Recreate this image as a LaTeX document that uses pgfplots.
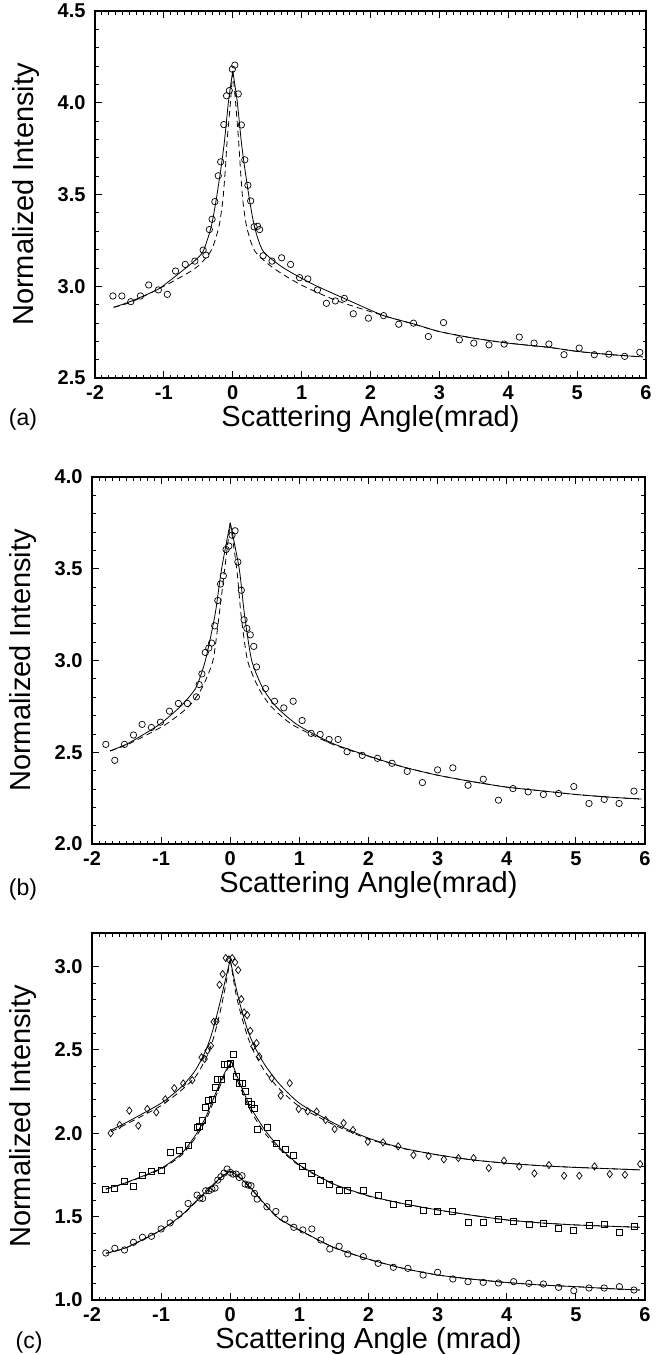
\documentclass[border=0pt]{standalone}
\usepackage{fontspec}
\setmainfont{Liberation Sans}
\usepackage{pgfplots}
\pgfplotsset{compat=1.18}

\pgfplotsset{
  panel/.style={
    scale only axis,
    height=367bp,
    xmin=-2, xmax=6,
    xtick={-2,-1,0,1,2,3,4,5,6},
    minor x tick num=9,
    minor y tick num=4,
    tick align=inside,
    major tick length=7bp,
    minor tick length=3.5bp,
    axis line style={line width=1.1bp},
    every tick/.style={black, line width=0.8bp},
    /pgf/number format/assume math mode=true,
    ticklabel style={font=\fontsize{20bp}{20bp}\selectfont\bfseries},
    xticklabel style={yshift=-4bp},
    yticklabel style={xshift=-6bp,
      /pgf/number format/fixed,
      /pgf/number format/fixed zerofill,
      /pgf/number format/precision=1},
    ylabel={Normalized Intensity},
    ylabel style={font=\fontsize{29bp}{29bp}\selectfont,
      at={(axis description cs:-0.125,0.5)}, anchor=center},
    xlabel style={font=\fontsize{29bp}{29bp}\selectfont,
      at={(axis description cs:0.5,0)}, anchor=center, yshift=-41bp},
  },
  fit/.style={black, line width=0.8bp, no markers, smooth, tension=0.4},
  fitd/.style={black, line width=0.8bp, no markers, smooth, tension=0.4,
    dash pattern=on 6bp off 4bp},
  pts/.style={only marks, mark=o, mark size=3.2bp,
    mark options={line width=0.7bp, black}},
}

\begin{document}
\begin{tikzpicture}
\path[use as bounding box] (0,0) rectangle (668bp,-1355bp);

% ---------------- (a)
\begin{axis}[panel, name=pa, width=551bp,
  at={(95bp,-11bp)}, anchor=north west,
  ymin=2.5, ymax=4.5, ytick={2.5,3.0,3.5,4.0,4.5},
  xlabel={Scattering Angle(mrad)}]
\addplot[pts] coordinates {
(-1.74,2.947) (-1.61,2.947) (-1.48,2.916) (-1.34,2.947) (-1.22,3.007)
(-1.08,2.98) (-0.95,2.956) (-0.83,3.083) (-0.69,3.119) (-0.55,3.137)
(-0.43,3.197) (-0.39,3.17) (-0.34,3.309) (-0.30,3.365) (-0.26,3.461)
(-0.21,3.602) (-0.175,3.678) (-0.13,3.881) (-0.09,4.038) (-0.05,4.066)
(-0.006,4.183) (0.03,4.205) (0.08,4.048) (0.125,3.879) (0.175,3.689)
(0.22,3.55) (0.26,3.465) (0.31,3.324) (0.36,3.327) (0.39,3.309)
(0.44,3.166) (0.57,3.137) (0.71,3.155) (0.84,3.119) (0.97,3.047)
(1.09,3.04) (1.23,2.98) (1.36,2.907) (1.49,2.92) (1.62,2.934)
(1.75,2.85) (1.97,2.826) (2.19,2.84) (2.41,2.793) (2.625,2.799)
(2.84,2.726) (3.06,2.802) (3.29,2.708) (3.5,2.69) (3.72,2.681)
(3.94,2.685) (4.16,2.723) (4.375,2.69) (4.59,2.685) (4.81,2.627)
(5.03,2.663) (5.25,2.627) (5.46,2.63) (5.69,2.618) (5.91,2.64)};
% solid fit
\addplot[fit] coordinates {
(-1.73,2.885) (-1.48,2.918) (-1.08,2.985) (-0.73,3.085) (-0.55,3.14)
(-0.43,3.19) (-0.316,3.319) (-0.243,3.465) (-0.17,3.646) (-0.12,3.792)
(-0.061,4.01) (0,4.173)};
\addplot[fit] coordinates {
(0,4.173) (0.064,4.01) (0.123,3.792) (0.173,3.646) (0.246,3.465)
(0.319,3.319) (0.44,3.192) (0.733,3.101) (1.17,3.01) (1.70,2.92)
(2.19,2.84) (2.625,2.795) (3.0,2.753) (3.5,2.717) (4.0,2.69)
(4.59,2.667) (5.0,2.645) (5.5,2.627) (5.95,2.615)};
% dashed fit
\addplot[fitd] coordinates {
(-1.73,2.885) (-1.46,2.916) (-0.95,3.01) (-0.536,3.10) (-0.317,3.192)
(-0.204,3.319) (-0.145,3.465) (-0.106,3.646) (-0.082,3.792) (-0.032,4.01)
(0,4.173)};
\addplot[fitd] coordinates {
(0,4.173) (0.04,4.01) (0.085,3.792) (0.11,3.646) (0.147,3.465)
(0.205,3.319) (0.32,3.192) (0.587,3.10) (0.978,3.01) (1.52,2.92)
(2.19,2.84) (2.625,2.794) (3.0,2.753) (3.5,2.717) (4.0,2.69)
(4.59,2.667) (5.0,2.645) (5.5,2.627) (5.95,2.615)};
\end{axis}
\node[font=\fontsize{23bp}{23bp}\selectfont] at ([xshift=-72bp,yshift=-42bp]pa.south west) {(a)};

% ---------------- (b)
\begin{axis}[panel, name=pb, width=553bp,
  at={(92bp,-477bp)}, anchor=north west,
  ymin=2.0, ymax=4.0, ytick={2.0,2.5,3.0,3.5,4.0},
  xlabel={Scattering Angle(mrad)}]
\addplot[pts] coordinates {
(-1.8,2.543) (-1.67,2.456) (-1.53,2.543) (-1.4,2.594) (-1.275,2.652)
(-1.14,2.635) (-1.01,2.664) (-0.88,2.724) (-0.75,2.766) (-0.62,2.766)
(-0.49,2.802) (-0.45,2.869) (-0.41,2.927) (-0.36,3.044) (-0.31,3.068)
(-0.27,3.095) (-0.225,3.189) (-0.18,3.327) (-0.14,3.417) (-0.1,3.462)
(-0.06,3.605) (-0.02,3.624) (0.025,3.683) (0.07,3.707) (0.11,3.537)
(0.16,3.383) (0.2,3.222) (0.24,3.175) (0.29,3.14) (0.34,3.077)
(0.38,2.965) (0.51,2.847) (0.64,2.778) (0.775,2.742) (0.91,2.778)
(1.04,2.673) (1.17,2.603) (1.3,2.597) (1.43,2.57) (1.56,2.57)
(1.69,2.503) (1.91,2.483) (2.13,2.467) (2.34,2.44) (2.56,2.396)
(2.78,2.335) (3.0,2.404) (3.22,2.415) (3.44,2.32) (3.66,2.353)
(3.88,2.239) (4.09,2.302) (4.31,2.284) (4.53,2.27) (4.75,2.275)
(4.97,2.313) (5.19,2.221) (5.41,2.243) (5.625,2.221) (5.84,2.288)};
\addplot[fit] coordinates {
(-1.74,2.507) (-1.47,2.55) (-1.03,2.65) (-0.72,2.75) (-0.5,2.85)
(-0.36,3.0) (-0.22,3.25) (-0.125,3.5) (0,3.75)};
\addplot[fit] coordinates {
(0,3.75) (0.13,3.5) (0.206,3.25) (0.31,3.0) (0.47,2.85) (0.66,2.75)
(0.97,2.65) (1.47,2.55) (2.0,2.48) (2.5,2.42) (3.0,2.375) (3.5,2.34)
(4.0,2.31) (4.5,2.29) (5.0,2.27) (5.5,2.255) (5.95,2.245)};
\addplot[fitd] coordinates {
(-1.74,2.507) (-1.47,2.545) (-0.94,2.65) (-0.6,2.75) (-0.41,2.85)
(-0.25,3.0) (-0.16,3.25) (-0.08,3.5) (0,3.75)};
\addplot[fitd] coordinates {
(0,3.75) (0.094,3.5) (0.156,3.25) (0.25,3.0) (0.41,2.85) (0.59,2.75)
(0.9,2.65) (1.47,2.545) (2.0,2.478) (2.5,2.42) (3.0,2.375) (3.5,2.34)
(4.0,2.31) (4.5,2.29) (5.0,2.27) (5.5,2.255) (5.95,2.245)};
\end{axis}
\node[font=\fontsize{23bp}{23bp}\selectfont] at ([xshift=-69bp,yshift=-46bp]pb.south west) {(b)};

% ---------------- (c)
\begin{axis}[panel, name=pc, width=553bp,
  at={(92bp,-933bp)}, anchor=north west,
  ymin=1.0, ymax=3.2, ytick={1.0,1.5,2.0,2.5,3.0},
  xlabel={Scattering Angle (mrad)}]
% diamonds
\addplot[only marks, mark=diamond, mark size=3.6bp,
  mark options={line width=0.7bp, black}] coordinates {
(-1.73,2.0) (-1.6,2.049) (-1.46,2.135) (-1.33,2.045) (-1.2,2.145)
(-1.07,2.125) (-0.94,2.203) (-0.81,2.27) (-0.68,2.298) (-0.55,2.318)
(-0.415,2.455) (-0.37,2.445) (-0.33,2.495) (-0.28,2.524) (-0.24,2.668)
(-0.2,2.67) (-0.155,2.89) (-0.11,2.954) (-0.065,3.05) (-0.02,3.042)
(0.028,3.05) (0.07,3.024) (0.115,2.978) (0.16,2.804) (0.2,2.724)
(0.245,2.708) (0.29,2.614) (0.334,2.52) (0.38,2.54) (0.42,2.46)
(0.6,2.33) (0.73,2.225) (0.86,2.3) (0.99,2.145) (1.12,2.131)
(1.25,2.129) (1.38,2.079) (1.51,2.025) (1.64,2.061) (1.775,2.019)
(1.99,1.949) (2.21,1.945) (2.43,1.921) (2.65,1.869) (2.87,1.863)
(3.09,1.843) (3.3,1.851) (3.52,1.851) (3.74,1.791) (3.96,1.835)
(4.18,1.801) (4.4,1.759) (4.61,1.809) (4.83,1.745) (5.05,1.745)
(5.27,1.801) (5.49,1.755) (5.71,1.751) (5.93,1.815)};
\addplot[fit] coordinates {
(-1.72,2.02) (-1.5,2.065) (-1.0,2.18) (-0.7,2.28) (-0.5,2.38)
(-0.35,2.5) (-0.25,2.62) (-0.15,2.78) (-0.07,2.92) (0,3.04)};
\addplot[fit] coordinates {
(0,3.04) (0.08,2.88) (0.15,2.76) (0.25,2.62) (0.35,2.52) (0.5,2.41)
(0.7,2.30) (1.0,2.18) (1.5,2.06) (2.0,1.97) (2.5,1.91) (3.0,1.87)
(3.5,1.84) (4.0,1.82) (4.5,1.805) (5.0,1.795) (5.5,1.787) (5.93,1.78)};
\addplot[fitd] coordinates {
(-1.72,2.01) (-1.5,2.055) (-1.0,2.165) (-0.7,2.26) (-0.5,2.34)
(-0.35,2.45) (-0.25,2.56) (-0.15,2.72) (-0.07,2.88) (0,3.04)};
\addplot[fitd] coordinates {
(0,3.04) (0.08,2.84) (0.15,2.72) (0.25,2.58) (0.35,2.48) (0.5,2.37)
(0.7,2.27) (1.0,2.16) (1.5,2.05) (2.0,1.965) (2.5,1.908) (3.0,1.87)
(3.5,1.84) (4.0,1.82) (4.5,1.805) (5.0,1.795) (5.5,1.787) (5.93,1.78)};
% squares
\addplot[only marks, mark=square, mark size=3.0bp,
  mark options={line width=0.7bp, black}] coordinates {
(-1.8,1.661) (-1.67,1.671) (-1.53,1.711) (-1.4,1.681) (-1.27,1.749)
(-1.14,1.771) (-1.0,1.775) (-0.87,1.885) (-0.74,1.895) (-0.61,1.925)
(-0.48,2.035) (-0.44,2.039) (-0.4,2.075) (-0.355,2.155) (-0.31,2.195)
(-0.265,2.205) (-0.22,2.275) (-0.18,2.325) (-0.135,2.321) (-0.09,2.415)
(-0.045,2.415) (0.0,2.419) (0.04,2.47) (0.085,2.339) (0.13,2.299)
(0.17,2.299) (0.215,2.249) (0.26,2.191) (0.3,2.175) (0.35,2.151)
(0.39,2.025) (0.53,2.035) (0.66,1.939) (0.79,1.905) (0.92,1.865)
(1.05,1.799) (1.18,1.761) (1.31,1.715) (1.44,1.695) (1.575,1.659)
(1.7,1.659) (1.925,1.655) (2.14,1.629) (2.36,1.571) (2.57,1.581)
(2.79,1.535) (3.0,1.531) (3.22,1.531) (3.44,1.465) (3.66,1.465)
(3.88,1.485) (4.1,1.471) (4.32,1.455) (4.53,1.461) (4.75,1.43)
(4.97,1.42) (5.19,1.446) (5.41,1.452) (5.63,1.406) (5.84,1.44)};
\addplot[fit] coordinates {
(-1.8,1.665) (-1.5,1.705) (-1.0,1.79) (-0.7,1.88) (-0.5,1.99)
(-0.35,2.1) (-0.25,2.2) (-0.15,2.3) (-0.07,2.37) (0.02,2.43)};
\addplot[fit] coordinates {
(0.02,2.43) (0.1,2.34) (0.2,2.24) (0.3,2.15) (0.5,2.02) (0.7,1.92)
(1.0,1.81) (1.5,1.695) (2.0,1.625) (2.5,1.578) (3.0,1.54) (3.5,1.508)
(4.0,1.48) (4.5,1.462) (5.0,1.45) (5.5,1.442) (5.93,1.436)};
\addplot[fitd] coordinates {
(-1.8,1.665) (-1.5,1.703) (-1.0,1.785) (-0.7,1.87) (-0.5,1.975)
(-0.35,2.08) (-0.25,2.18) (-0.15,2.28) (-0.07,2.36) (0.02,2.43)};
\addplot[fitd] coordinates {
(0.02,2.43) (0.1,2.32) (0.2,2.22) (0.3,2.13) (0.5,2.0) (0.7,1.91)
(1.0,1.805) (1.5,1.692) (2.0,1.623) (2.5,1.577) (3.0,1.54) (3.5,1.508)
(4.0,1.48) (4.5,1.462) (5.0,1.45) (5.5,1.442) (5.93,1.436)};
% circles
\addplot[pts] coordinates {
(-1.8,1.282) (-1.67,1.31) (-1.53,1.3) (-1.4,1.346) (-1.27,1.376)
(-1.14,1.382) (-1.0,1.426) (-0.87,1.462) (-0.74,1.516) (-0.61,1.579)
(-0.48,1.629) (-0.44,1.611) (-0.4,1.609) (-0.355,1.655) (-0.31,1.655)
(-0.265,1.665) (-0.22,1.671) (-0.18,1.719) (-0.135,1.739) (-0.09,1.761)
(-0.045,1.785) (0.0,1.765) (0.04,1.755) (0.085,1.755) (0.13,1.735)
(0.17,1.745) (0.215,1.695) (0.26,1.689) (0.3,1.685) (0.35,1.639)
(0.39,1.605) (0.53,1.559) (0.66,1.531) (0.79,1.485) (0.92,1.436)
(1.05,1.42) (1.18,1.426) (1.31,1.36) (1.44,1.306) (1.575,1.322)
(1.7,1.276) (1.925,1.26) (2.14,1.22) (2.36,1.196) (2.57,1.19)
(2.79,1.15) (3.0,1.166) (3.22,1.126) (3.44,1.11) (3.66,1.106)
(3.88,1.102) (4.1,1.11) (4.32,1.1) (4.53,1.096) (4.75,1.076)
(4.97,1.056) (5.19,1.072) (5.41,1.072) (5.63,1.08) (5.84,1.06)};
\addplot[fit] coordinates {
(-1.8,1.28) (-1.5,1.315) (-1.0,1.42) (-0.7,1.51) (-0.5,1.59)
(-0.3,1.67) (-0.15,1.73) (0,1.77) (0.15,1.73) (0.3,1.67) (0.5,1.575)
(0.7,1.49) (1.0,1.42) (1.5,1.315) (2.0,1.245) (2.5,1.19) (3.0,1.15)
(3.5,1.125) (4.0,1.105) (4.5,1.09) (5.0,1.08) (5.5,1.068) (5.93,1.06)};
\addplot[fitd] coordinates {
(-1.8,1.28) (-1.5,1.314) (-1.0,1.418) (-0.7,1.507) (-0.5,1.587)
(-0.3,1.667) (-0.15,1.728) (0,1.77) (0.15,1.728) (0.3,1.667) (0.5,1.572)
(0.7,1.488) (1.0,1.418) (1.5,1.314) (2.0,1.244) (2.5,1.19) (3.0,1.15)
(3.5,1.125) (4.0,1.105) (4.5,1.09) (5.0,1.08) (5.5,1.068) (5.93,1.06)};
\end{axis}
\node[font=\fontsize{23bp}{23bp}\selectfont] at ([xshift=-63bp,yshift=-43bp]pc.south west) {(c)};
\end{tikzpicture}
\end{document}
